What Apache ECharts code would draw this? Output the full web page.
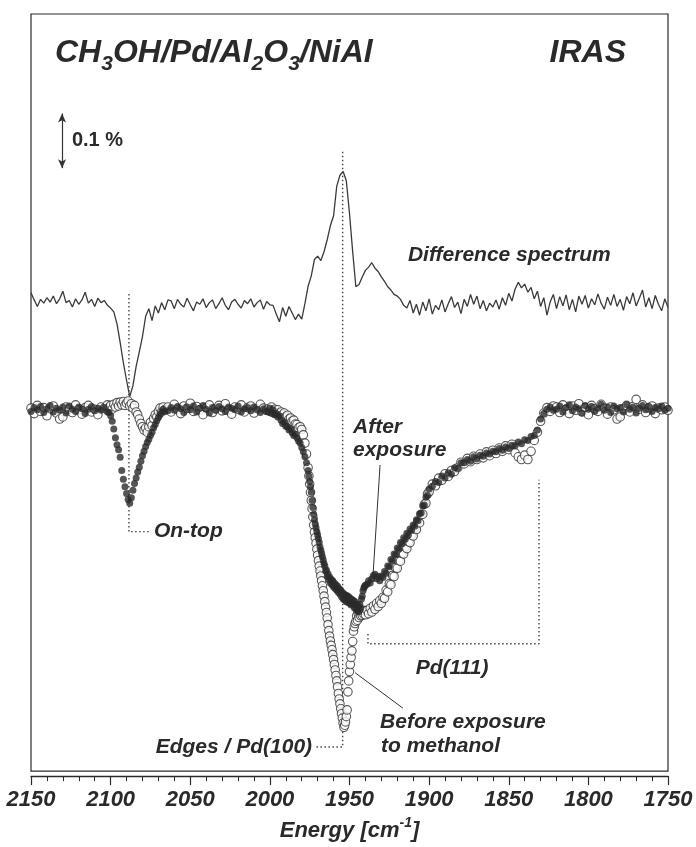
<!DOCTYPE html>
<html><head><meta charset="utf-8">
<script src="https://cdn.jsdelivr.net/npm/echarts/dist/echarts.min.js"></script>
<style>html,body{margin:0;padding:0;background:#fff}#c{width:696px;height:847px}</style>
</head><body><div id="c"></div><script>
// ---- DATA (values in units of 0.01 % reflectance change) ----
// energy grid segments for the two scatter spectra: [start, end, step] in cm-1
const pointSegments = [[2150,2102,2],[2101,2066,1],[2064,2002,2],[2001,1976,1],[1975.5,1940,0.5],[1939,1900,1],[1898,1750,2]];
const diffSegments = [[2150,1750,2]];

// Before exposure to methanol (open circles)
const openA = [0.4,-0.6,0.9,-0.2,0.5,-1.0,0.3,0.8,-0.5,-1.6,-1.2,0.6,0.2,-0.4,1.0,0.1,-0.7,0.5,0.9,-0.3,0.2,-0.8,0.6,0.4,1.0];
const openB = [0.5,0.9,0.2,1.1,0.6,1.4,0.8,1.5,1.0,1.6,0.9,1.3,1.7,0.8,1.2,0.4,0.9,-0.3,-0.8,-1.6,-2.4,-3.0,-3.6,-3.2,-4.0,-3.0,-2.2,-2.8,-1.5,-0.8,-1.2,-0.2,0.4,-0.3,0.6,0.1];
const openC = [0.6,-0.3,1.1,0.2,-0.6,0.8,0.4,1.3,-0.2,0.7,0.1,-0.8,0.5,1.0,-0.4,0.3,0.9,-0.1,1.2,0.0,-0.7,0.6,0.2,1.0,-0.3,0.5,0.8,-0.5,0.3,1.1,0.4,0.0];
const openD = [0.3,-0.2,0.6,-0.4,0.2,-0.5,0.1,-0.6,-0.3,-0.8,-0.5,-1.2,-0.9,-1.6,-1.4,-2.0,-1.8,-2.5,-2.6,-3.2,-3.0,-3.5,-4.5,-6.0,-8.0,-10.5];
const openE = [-12,-13.5,-15,-16.5,-18,-19.5,-21,-22.3,-23.3,-24.3,
  -25.4,-26.5,-27.5,-28.5,-29.4,-30.3,-31.2,-32.1,-33,-34,
  -35,-36,-37,-38,-39.2,-40.3,-41.3,-42.2,-43,-43.8,
  -44.7,-45.6,-46.5,-47.5,-48.5,-49.5,-50.6,-51.8,-52.8,-53.7,
  -54.6,-55.5,-56.3,-57.2,-58,-57.6,-57,-56,-54.8,-51.5,
  -49.5,-47.8,-46.5,-45.2,-44,-42.3,-40.4,-39.6,-39,-38.6,
  -37.6,-38.4,-37.2,-37.9,-36.8,-37.6,-37.0,-37.5,-36.6,-37.3,
  -36.7,-37.4];
const openF = [-36.6,-37.2,-36.2,-36.9,-35.8,-36.4,-35.3,-35.9,-34.8,-35.3,
  -34.2,-34.4,-32.9,-33.2,-31.7,-31.9,-30.2,-30.4,-28.8,-28.9,
  -27.5,-27.6,-26.1,-26.3,-25.0,-25.3,-24.0,-24.2,-22.8,-23.0,
  -21.5,-21.8,-20.4,-20.6,-19.1,-19.0,-17.2,-17.0,-15.3,-14.9];
const openG = [-13.5,-13.8,-12.4,-12.8,-11.6,-12.1,-11.0,-11.2,-10.5,-9.5,
  -9.8,-8.8,-9.4,-8.4,-9.0,-8.0,-8.7,-7.6,-8.3,-7.3,
  -7.9,-6.9,-7.5,-6.5,-7.2,-6.2,-7.8,-8.5,-9.0,-8.2,
  -9.0,-7.5,-5.5,-4.0,-2.0,-0.5,0.5,-0.2,0.8,
  0.6,-0.4,1.0,0.2,-0.6,0.8,0.0,1.2,-0.3,0.5,-0.8,0.9,0.3,-0.2,1.1,0.4,-0.7,0.6,0.1,-1.6,
  -1.2,0.3,0.9,-0.3,0.7,2.0,0.2,1.0,-0.4,0.5,0.8,-0.6,0.4,0.1,0.6,0.0];

// After exposure (filled circles)
const filledA = [-0.2,0.5,0.1,0.7,-0.4,0.3,0.9,-0.3,0.4,0.0,0.6,-0.5,0.8,0.2,-0.2,0.6,0.3,-0.6,0.2,0.7,-0.1,0.4,0.0,0.5,-0.3];
const filledB = [-0.4,-1.0,-2.0,-3.4,-5.0,-6.3,-7.2,-8.6,-11.0,-12.6,-14.0,-15.2,-16.3,-17.0,-16.0,-14.6,-13.4,-12.4,-11.3,-10.4,-9.3,-8.3,-7.5,-6.6,-5.9,-5.3,-4.6,-4.0,-3.2,-2.6,-1.9,-1.3,-0.8,-0.3,0.2,-0.2];
const filledC = [-0.1,0.5,0.0,0.7,0.3,-0.4,0.6,0.1,0.8,-0.3,0.4,0.9,0.2,-0.5,0.5,0.0,0.7,0.3,-0.2,0.6,0.4,0.1,0.8,-0.3,0.3,0.5,-0.1,0.6,0.2,-0.4,0.3,-0.2];
const filledD = [-0.3,0.4,-0.5,0.1,-0.8,-0.6,-1.2,-1.0,-1.8,-2.4,-2.2,-2.9,-3.0,-3.6,-3.4,-4.1,-4.6,-4.4,-5.0,-5.6,-6.0,-6.8,-7.6,-8.5,-9.6,-11.0];
const filledE = [-12,-13,-14,-15,-16.5,-17.8,-19,-20,-20.8,-21.5,
  -22.2,-22.8,-23.5,-24.2,-25,-25.6,-26.2,-26.8,-27.4,-28,
  -28.5,-29.4,-29.2,-30.4,-29.9,-31.0,-30.5,-31.6,-30.9,-31.9,
  -31.2,-32.3,-31.6,-32.6,-31.9,-32.9,-32.2,-33.3,-32.6,-33.6,
  -32.9,-34.1,-33.3,-34.5,-33.6,-34.7,-33.8,-35.0,-33.9,-35.1,
  -34.1,-35.3,-34.4,-35.6,-34.6,-35.5,-34.8,-36.1,-35.0,-36.4,
  -35.5,-36.7,-35.8,-36.8,-35.5,-36.2,-34.5,-34.0,-33.0,-32.5,
  -32.2,-32.0];
const filledF = [-31.8,-31.2,-31.6,-30.8,-30.2,-30.0,-30.8,-30.4,-31.2,-30.3,
  -30.6,-29.5,-29.8,-28.5,-28.6,-27.3,-27.5,-26.3,-26.4,-25.2,
  -25.4,-24.2,-24.4,-23.3,-23.6,-22.5,-22.8,-21.7,-22.0,-21.0,
  -21.2,-20.0,-20.2,-18.9,-18.8,-17.5,-17.3,-15.9,-15.6,-14.4];
const filledG = [-13.9,-13.0,-13.2,-12.0,-12.4,-11.4,-11.7,-10.5,-10.6,-9.6,
  -9.6,-9.0,-9.3,-8.5,-8.9,-8.2,-8.4,-7.8,-8.0,-7.5,
  -7.6,-7.0,-7.3,-6.7,-7.0,-6.4,-6.5,-5.8,-6.1,-5.4,
  -5.5,-4.8,-4.6,-3.6,-1.6,-0.6,0.2,0.6,0.0,
  0.2,0.8,-0.3,0.5,1.0,-0.1,0.6,0.3,-0.5,0.9,0.2,0.7,-0.2,0.4,1.1,0.0,0.6,-0.4,0.8,0.3,
  0.5,-0.3,1.0,0.2,0.6,-0.5,0.4,0.9,0.1,0.7,-0.2,0.5,0.3,0.8,0.0,0.4];

// Difference spectrum (after - before), 2150 -> 1750 every 2 cm-1
const diffA = [1.5,0.2,-1.0,0.3,-0.4,0.6,-0.2,0.9,-0.5,0.4,1.8,-0.3,0.1,-1.1,0.4,-0.6,0.2,1.6,-0.4,0.3,-1.0,0.5,-0.3,0.1,-0.8];
const diffB = [-1.3,-2.0,-4.2,-7.6,-11.3,-14.5,-17.5,-15.5,-12.0,-9.3,-6.5,-2.8,-1.4,-3.6,-0.9,-2.2,-0.3,-1.6,0.2];
const diffC = [0.0,-1.4,0.3,-0.6,-1.1,0.5,-0.7,-1.8,-0.2,-0.6,0.4,-1.2,-0.3,0.2,-1.4,-0.5,0.6,-0.8,-1.6,-0.2,0.3,-0.6,-1.3,0.1,-0.5,0.4,-1.1,-0.3,0.2,-1.5,-0.1,-0.7];
const diffD = [-0.8,-2.4,-3.8,-1.2,-2.8,-1.0,-2.2,-3.4,-2.4,-3.3,
  -0.5,2.7,4.6,7.6,8.2,7.4,9.0,11.2,13.8,15.6,
  21.0,23.0,23.7,22.0,16.0,9.0,2.6,3.0,4.4,5.6,
  6.2,7.0,6.0,5.4,4.4,3.6,2.6,2.0,1.2,0.9,
  0.3,-0.8,-1.3,0.1];
const diffE = [-2.2,-0.6,-2.6,-0.2,-1.8,0.4,-2.4,-0.8,-1.6,0.2,
  -2.0,-0.5,0.8,-1.2,-0.2,-2.3,0.3,-1.0,1.2,-0.6,
  0.9,-1.4,0.1,-1.8,-0.4,-1.1,0.2,-1.5,0.6,-0.8,
  1.4,0.0,2.2,3.4,2.4,3.1,1.6,2.5,0.4,1.8,
  -1.0,0.6,-2.6,-0.2,1.2,-1.4,0.8,-0.9,1.1,-1.6,
  0.3,-2.0,0.9,-0.6,1.0,-1.3,0.4,-0.7,1.3,-0.4,
  -1.5,0.7,-0.8,1.2,-1.0,0.3,-1.7,0.8,-0.5,1.5,
  -0.9,0.5,2.0,-1.1,0.6,-1.4,1.0,-0.6,-1.8,0.4,
  -1.2];
const DIFF_OFFSET = 20;          // vertical offset of the difference spectrum (0.20 %)
const SCALE_BAR = 10;            // 0.1 %
const xTicks = [2150,2100,2050,2000,1950,1900,1850,1800,1750];

// ---- BUILD ----
function buildGrid(segs){const g=[];for(const [a,b,s] of segs){const n=Math.round((a-b)/s);for(let i=0;i<=n;i++)g.push(+(a-i*s).toFixed(2));}return g;}
const pE = buildGrid(pointSegments), dE = buildGrid(diffSegments);
const openV = [].concat(openA,openB,openC,openD,openE,openF,openG);
const filledV = [].concat(filledA,filledB,filledC,filledD,filledE,filledF,filledG);
const diffV = [].concat(diffA,diffB,diffC,diffD,diffE);
if(openV.length!==pE.length||filledV.length!==pE.length||diffV.length!==dE.length)
  throw new Error('length mismatch '+pE.length+' '+openV.length+' '+filledV.length+' '+dE.length+' '+diffV.length);

const FONT='"Liberation Sans", Arial, Helvetica, sans-serif';
const INK='#2a2a2a';
const chart=echarts.init(document.getElementById('c'));

// annotation geometry in data coordinates [energy, value]
const dotted=[
  [[1954.3,47.3],[1954.3,-61.6],[1972.3,-61.6]],
  [[2088.5,21.3],[2088.5,-22.2],[2074.6,-22.2]],
  [[1938.4,-40.9],[1938.4,-42.7],[1831,-42.7],[1831,-12.7]]
];
const leaders=[
  [[1930.8,-10],[1935.2,-30]],
  [[1946.5,-48],[1916.4,-54.5]]
];
const labels=[
  {t:'Difference spectrum',at:[1913.3,28.4],al:'left'},
  {t:'On-top',at:[2072.8,-22.2],al:'left'},
  {t:'After',at:[1947.8,-3.1],al:'left'},
  {t:'exposure',at:[1947.8,-7.3],al:'left'},
  {t:'Pd(111)',at:[1885.6,-47.1],al:'center'},
  {t:'Before exposure',at:[1930.8,-57.1],al:'left'},
  {t:'to methanol',at:[1930.2,-61.4],al:'left'},
  {t:'Edges / Pd(100)',at:[1973.5,-61.6],al:'right'},
  {t:'0.1 %',at:[2124.3,49.3],al:'left',up:true}
];
const big={fontFamily:FONT,fontSize:32,fontWeight:'bold',fontStyle:'italic',color:INK,lineHeight:44};
const sub={fontFamily:FONT,fontSize:21,fontWeight:'bold',fontStyle:'italic',color:INK,lineHeight:21,verticalAlign:'bottom'};

const series=[];
dotted.forEach(p=>series.push({type:'line',data:p,symbol:'none',silent:true,z:1,lineStyle:{color:'#444',width:1.4,type:[1.5,2.5]}}));
leaders.forEach(p=>series.push({type:'line',data:p,symbol:'none',silent:true,z:1,lineStyle:{color:'#333',width:1}}));
series.push({type:'line',data:dE.map((e,i)=>[e,diffV[i]+DIFF_OFFSET]),symbol:'none',silent:true,z:2,
  lineStyle:{color:'#3a3a3a',width:1.3},
  markLine:{silent:true,symbol:['arrow','arrow'],symbolSize:[6,9],label:{show:false},
    lineStyle:{color:'#333',width:1.2,type:'solid'},
    data:[[{coord:[2130.5,49.3+SCALE_BAR/2]},{coord:[2130.5,49.3-SCALE_BAR/2]}]]}});
series.push({type:'scatter',data:pE.map((e,i)=>[e,openV[i]]),symbol:'circle',symbolSize:8.5,silent:true,z:3,
  itemStyle:{color:'#fff',borderColor:'#303030',borderWidth:1.1}});
series.push({type:'scatter',data:pE.map((e,i)=>[e,filledV[i]]),symbol:'circle',symbolSize:7,silent:true,z:4,
  itemStyle:{color:'#2b2b2b'}});

chart.setOption({
  animation:false,
  title:[
    {text:'{a|CH}{s|3}{a|OH/Pd/Al}{s|2}{a|O}{s|3}{a|/NiAl}',left:55,top:31,padding:0,textStyle:{rich:{a:big,s:sub}}},
    {text:'{a|IRAS}',right:70,top:31,padding:0,textStyle:{rich:{a:big}}}
  ],
  grid:{left:31,right:28,top:14,bottom:72,show:true,borderColor:INK,borderWidth:1.2},
  xAxis:{type:'value',min:1750,max:2150,interval:50,inverse:true,offset:5,
    axisLine:{onZero:false,lineStyle:{color:INK,width:1.3}},
    axisTick:{length:9,lineStyle:{color:INK,width:1.2}},
    minorTick:{show:true,splitNumber:5,length:5,lineStyle:{color:INK,width:1}},
    splitLine:{show:false},
    axisLabel:{margin:13,showMinLabel:true,showMaxLabel:true,fontFamily:FONT,fontSize:22,fontStyle:'italic',fontWeight:'bold',color:INK,
      formatter:v=>xTicks.includes(v)?String(v):''},
    name:'{a|Energy [cm}{s|-1}{a|]}',nameLocation:'middle',nameGap:39,
    nameTextStyle:{rich:{
      a:{fontFamily:FONT,fontSize:22,fontWeight:'bold',fontStyle:'italic',color:INK,lineHeight:30},
      s:{fontFamily:FONT,fontSize:14,fontWeight:'bold',fontStyle:'italic',color:INK,lineHeight:14,verticalAlign:'top'}}}
  },
  yAxis:{type:'value',min:-66,max:72.5,show:false},
  series:series
});

const g=labels.map(a=>{const p=chart.convertToPixel({xAxisIndex:0,yAxisIndex:0},a.at);
  return {type:'text',x:p[0],y:p[1],silent:true,z:10,
    style:{text:a.t,fill:INK,font:(a.up?'':'italic ')+'bold '+(a.up?20:21)+'px '+FONT,
      align:a.al,verticalAlign:'middle',textAlign:a.al,textVerticalAlign:'middle'}};});
chart.setOption({graphic:g});
</script></body></html>
